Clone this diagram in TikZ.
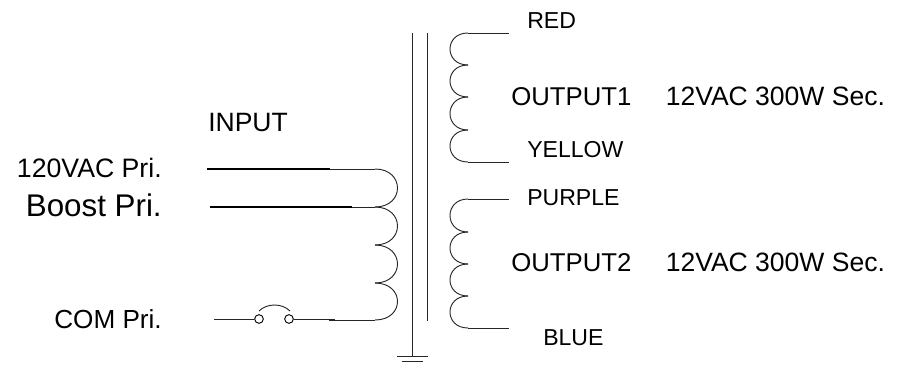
\documentclass[tikz,border=0pt]{standalone}
\usepackage{fontspec}
\setmainfont{Liberation Sans}
\tikzset{
    wire/.style={line width=0.7pt, black!85},
    lead/.style={line width=1.3pt, black},
    pin/.style={draw, circle, line width=0.7pt, minimum size=6.5pt, inner sep=0pt},
    lbl/.style={anchor=west, inner sep=0pt, font=\fontsize{17.3}{20}\selectfont},
    biglbl/.style={anchor=west, inner sep=0pt, font=\fontsize{19.3}{22}\selectfont},
    seclbl/.style={anchor=west, inner sep=0pt, font=\fontsize{19.9}{22}\selectfont},
    pri/.style={anchor=east, inner sep=0pt, font=\fontsize{20}{22}\selectfont}
}
\begin{document}
\begin{tikzpicture}[x=0.75pt, y=-0.75pt]
    \useasboundingbox (0,0) rectangle (904,365);

    % Core and ground
    \coordinate (coreA) at (412,33);
    \coordinate (coreB) at (412,356);
    \coordinate (coreC) at (427,33);
    \coordinate (coreD) at (427,321);
    \coordinate (gndAl) at (397,356);
    \coordinate (gndAr) at (428,356);
    \coordinate (gndBl) at (402,361);
    \coordinate (gndBr) at (423,361);
    \draw[wire] (coreA) -- (coreB);
    \draw[wire] (coreC) -- (coreD);
    \draw[wire] (gndAl) -- (gndAr);
    \draw[wire] (gndBl) -- (gndBr);

    % Primary winding
    \foreach \name/\ypos in {pa/169, pb/207, pc/245, pd/283, pe/320}
        \coordinate (\name) at (375,\ypos);
    \foreach \from/\to in {pa/pb, pb/pc, pc/pd, pd/pe}
        \draw[wire] (\from) .. controls +(30,0) and +(30,0) .. (\to);

    % Primary leads
    \coordinate (inA) at (207,169);
    \coordinate (inAm) at (330,169);
    \coordinate (inB) at (210,207);
    \coordinate (inBm) at (352,207);
    \draw[lead] (inA) -- (inAm);
    \draw[wire] (inAm) -- (pa);
    \draw[lead] (inB) -- (inBm);
    \draw[wire] (inBm) -- (pb);

    % Switch
    \coordinate (comA) at (214,319);
    \coordinate (comB) at (335,319);
    \coordinate (comC) at (329,320);
    \node[pin] (swA) at (259,319) {};
    \node[pin] (swB) at (289,319) {};
    \draw[wire] (comA) -- (swA);
    \draw[wire] (swB) -- (comB);
    \draw[wire] (comC) -- (pe);
    \coordinate (armA) at (259,311);
    \coordinate (armB) at (290,311);
    \draw[wire] (armA) .. controls +(8,-8) and +(-8,-8) .. (armB);

    % Secondary windings
    \foreach \name/\ypos in {sa/33, sb/65, sc/97, sd/130, se/162, ta/199, tb/232, tc/264, td/296, te/328}
        \coordinate (\name) at (468,\ypos);
    \foreach \from/\to in {sa/sb, sb/sc, sc/sd, sd/se, ta/tb, tb/tc, tc/td, td/te}
        \draw[wire] (\from) .. controls +(-24,0) and +(-24,0) .. (\to);
    \foreach \name/\ypos in {saEnd/33, seEnd/162, taEnd/199, teEnd/328}
        \coordinate (\name) at (509,\ypos);
    \draw[wire] (sa) -- (saEnd);
    \draw[wire] (se) -- (seEnd);
    \draw[wire] (ta) -- (taEnd);
    \draw[wire] (te) -- (teEnd);

    % Labels
    \node[lbl] (red) at (527,21) {RED};
    \node[biglbl] (outA) at (511,97) {OUTPUT1};
    \node[seclbl] (secA) at (665.5,96) {12VAC 300W Sec.};
    \node[lbl] (yellow) at (527,150) {YELLOW};
    \node[lbl] (purple) at (527,198) {PURPLE};
    \node[biglbl] (outB) at (511,263) {OUTPUT2};
    \node[seclbl] (secB) at (665.5,262) {12VAC 300W Sec.};
    \node[lbl] (blue) at (543,338) {BLUE};
    \node[seclbl] (input) at (208,122) {INPUT};
    \node[pri] (priA) at (162,168) {120VAC Pri.};
    \node[pri, font=\fontsize{23.5}{28}\selectfont] (priB) at (162,205) {Boost Pri.};
    \node[pri, font=\fontsize{19.6}{22}\selectfont] (priC) at (162,319) {COM Pri.};
\end{tikzpicture}
\end{document}
